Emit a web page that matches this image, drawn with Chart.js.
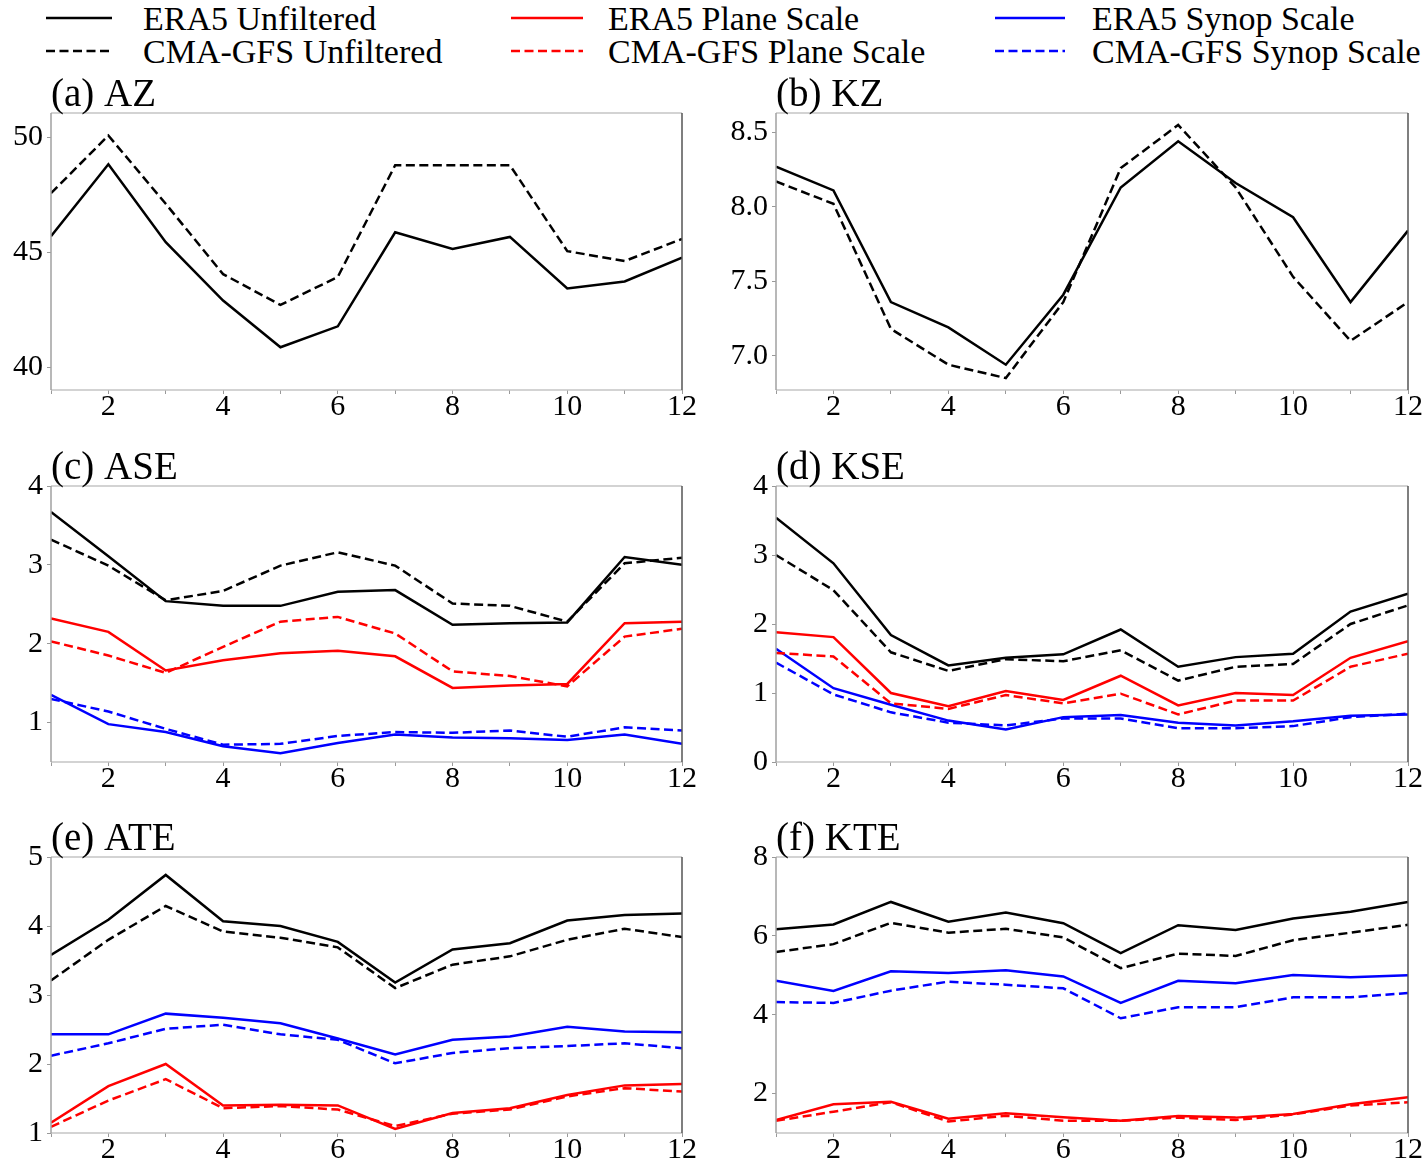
<!DOCTYPE html>
<html>
<head>
<meta charset="utf-8">
<title>Monthly energy terms</title>
<script src="https://cdn.jsdelivr.net/npm/chart.js@4.4.1/dist/chart.umd.min.js"></script>
<style>
  html, body { margin: 0; padding: 0; background: #fff; overflow: hidden; }
  body { width: 1427px; height: 1163px; position: relative; font-family: "Liberation Serif", "Times New Roman", serif; }
  .panel { position: absolute; }
  .legend-line { position: absolute; }
  .legend-text { position: absolute; font-size: 34px; line-height: 34px; color: #000; white-space: nowrap; }
</style>
</head>
<body>
<div id="legend"></div>
<div id="panels"></div>
<script>
// Months on the x axis and the labelled ticks
const months = [1, 2, 3, 4, 5, 6, 7, 8, 9, 10, 11, 12];
const xTickLabels = [2, 4, 6, 8, 10, 12];

// (a) AZ
const azEra5 = [45.69, 48.82, 45.43, 42.89, 40.86, 41.77, 45.86, 45.14, 45.66, 43.42, 43.72, 44.76];
const azCma  = [47.56, 50.07, 47.10, 44.04, 42.70, 43.92, 48.78, 48.78, 48.78, 45.04, 44.61, 45.57];
const azTicks = [40, 45, 50];

// (b) KZ
const kzEra5 = [8.27, 8.11, 7.36, 7.19, 6.94, 7.41, 8.13, 8.44, 8.16, 7.93, 7.36, 7.84];
const kzCma  = [8.17, 8.02, 7.18, 6.94, 6.85, 7.36, 8.26, 8.55, 8.13, 7.53, 7.10, 7.36];
const kzTicks = [7.0, 7.5, 8.0, 8.5];

// (c) ASE
const aseEra5      = [3.67, 3.11, 2.54, 2.48, 2.48, 2.66, 2.68, 2.24, 2.26, 2.27, 3.10, 3.00];
const aseCma       = [3.32, 2.99, 2.55, 2.67, 2.99, 3.16, 2.99, 2.51, 2.48, 2.28, 3.02, 3.09];
const asePlaneEra5 = [2.32, 2.15, 1.66, 1.79, 1.88, 1.91, 1.84, 1.44, 1.47, 1.49, 2.26, 2.28];
const asePlaneCma  = [2.03, 1.85, 1.63, 1.96, 2.28, 2.34, 2.13, 1.65, 1.59, 1.46, 2.09, 2.19];
const aseSynopEra5 = [1.35, 0.98, 0.88, 0.70, 0.61, 0.74, 0.85, 0.81, 0.80, 0.78, 0.85, 0.73];
const aseSynopCma  = [1.30, 1.14, 0.92, 0.72, 0.73, 0.83, 0.88, 0.87, 0.90, 0.82, 0.94, 0.90];
const aseTicks = [1, 2, 3, 4];

// (d) KSE
const kseEra5      = [3.54, 2.88, 1.84, 1.40, 1.51, 1.56, 1.92, 1.38, 1.52, 1.57, 2.18, 2.44];
const kseCma       = [3.00, 2.49, 1.59, 1.32, 1.49, 1.46, 1.62, 1.18, 1.38, 1.42, 2.00, 2.27];
const ksePlaneEra5 = [1.88, 1.81, 1.00, 0.81, 1.03, 0.90, 1.25, 0.82, 1.00, 0.97, 1.51, 1.75];
const ksePlaneCma  = [1.58, 1.53, 0.85, 0.77, 0.97, 0.85, 0.99, 0.69, 0.89, 0.89, 1.38, 1.57];
const kseSynopEra5 = [1.64, 1.07, 0.83, 0.60, 0.47, 0.65, 0.68, 0.57, 0.53, 0.59, 0.67, 0.69];
const kseSynopCma  = [1.44, 0.98, 0.72, 0.57, 0.53, 0.63, 0.63, 0.49, 0.49, 0.52, 0.65, 0.70];
const kseTicks = [0, 1, 2, 3, 4];

// (e) ATE
const ateEra5      = [3.58, 4.09, 4.74, 4.07, 4.00, 3.77, 3.18, 3.66, 3.75, 4.08, 4.16, 4.18];
const ateCma       = [3.21, 3.80, 4.29, 3.92, 3.83, 3.69, 3.10, 3.44, 3.56, 3.80, 3.96, 3.84];
const atePlaneEra5 = [1.15, 1.68, 2.00, 1.40, 1.41, 1.40, 1.06, 1.29, 1.36, 1.55, 1.69, 1.71];
const atePlaneCma  = [1.09, 1.47, 1.78, 1.36, 1.39, 1.34, 1.10, 1.28, 1.34, 1.53, 1.65, 1.60];
const ateSynopEra5 = [2.43, 2.43, 2.73, 2.67, 2.59, 2.37, 2.14, 2.35, 2.40, 2.54, 2.47, 2.46];
const ateSynopCma  = [2.12, 2.30, 2.51, 2.57, 2.43, 2.35, 2.01, 2.16, 2.23, 2.26, 2.30, 2.23];
const ateTicks = [1, 2, 3, 4, 5];

// (f) KTE
const kteEra5      = [6.17, 6.29, 6.86, 6.36, 6.59, 6.32, 5.56, 6.27, 6.15, 6.44, 6.61, 6.86];
const kteCma       = [5.59, 5.79, 6.33, 6.08, 6.18, 5.96, 5.18, 5.55, 5.49, 5.89, 6.08, 6.28];
const ktePlaneEra5 = [1.33, 1.73, 1.79, 1.36, 1.50, 1.40, 1.31, 1.43, 1.39, 1.48, 1.73, 1.91];
const ktePlaneCma  = [1.31, 1.54, 1.78, 1.29, 1.44, 1.31, 1.31, 1.39, 1.33, 1.47, 1.70, 1.78];
const kteSynopEra5 = [4.86, 4.60, 5.10, 5.06, 5.13, 4.97, 4.30, 4.86, 4.80, 5.01, 4.95, 5.00];
const kteSynopCma  = [4.32, 4.30, 4.61, 4.84, 4.76, 4.67, 3.91, 4.19, 4.19, 4.44, 4.44, 4.55];
const kteTicks = [2, 4, 6, 8];

const legendLabels = ['ERA5 Unfiltered', 'CMA-GFS Unfiltered', 'ERA5 Plane Scale',
                      'CMA-GFS Plane Scale', 'ERA5 Synop Scale', 'CMA-GFS Synop Scale'];

const FONT = '"Liberation Serif", "Times New Roman", serif';
const BLACK = '#000000', RED = '#ff0000', BLUE = '#0000ff';
const DASH = [9, 4.5];

// Legend: three columns, solid line on top row, dashed below
function buildLegend() {
    const legend = document.getElementById('legend');
    const columns = [
        { line: 46, width: 66, text: 143, color: BLACK },
        { line: 511, width: 72, text: 608, color: RED },
        { line: 995, width: 70, text: 1092, color: BLUE }
    ];
    const rows = [18, 51];
    columns.forEach((col, c) => {
        rows.forEach((y, r) => {
            const dash = r === 1 ? `stroke-dasharray="${DASH.join(' ')}"` : '';
            legend.insertAdjacentHTML('beforeend', `
                <svg class="legend-line" style="left:${col.line}px;top:${y - 5}px" width="${col.width}" height="10">
                    <line x1="0" y1="5" x2="${col.width}" y2="5" stroke="${col.color}" stroke-width="2.5" ${dash}/>
                </svg>
                <div class="legend-text" style="left:${col.text}px;top:${y - 16}px">${legendLabels[c * 2 + r]}</div>
            `);
        });
    });
}

// Spines in matplotlib-like greys, plus the panel title above the plot area
const framePlugin = {
    id: 'frame',
    afterDatasetsDraw(chart, args, opts) {
        const { ctx, chartArea: a } = chart;
        ctx.save();
        ctx.lineWidth = 1.5;
        const side = (color, x1, y1, x2, y2) => {
            ctx.strokeStyle = color;
            ctx.beginPath();
            ctx.moveTo(x1, y1);
            ctx.lineTo(x2, y2);
            ctx.stroke();
        };
        side('#c4c4c4', a.left, a.top, a.right, a.top);
        side('#c4c4c4', a.left, a.bottom, a.right, a.bottom);
        side('#a0a0a0', a.left, a.top, a.left, a.bottom);
        side('#555555', a.right, a.top, a.right, a.bottom);

        ctx.fillStyle = '#000';
        ctx.font = `39px ${FONT}`;
        ctx.textAlign = 'left';
        ctx.textBaseline = 'alphabetic';
        ctx.fillText(opts.text, a.left, a.top - 7);
        ctx.restore();
    }
};

function series(data, color, dashed) {
    return {
        data: months.map((m, i) => ({ x: m, y: data[i] })),
        borderColor: color,
        borderWidth: 2.5,
        borderDash: dashed ? DASH : [],
        pointRadius: 0,
        fill: false,
        tension: 0
    };
}

function makePanel(p) {
    const wrap = document.createElement('div');
    wrap.className = 'panel';
    wrap.style.left = p.left + 'px';
    wrap.style.top = p.top + 'px';
    const canvas = document.createElement('canvas');
    canvas.width = p.width;
    canvas.height = p.height;
    wrap.appendChild(canvas);
    document.getElementById('panels').appendChild(wrap);

    new Chart(canvas.getContext('2d'), {
        type: 'line',
        data: { datasets: p.datasets },
        options: {
            responsive: false,
            animation: false,
            devicePixelRatio: 1,
            layout: { padding: { top: p.padTop, right: p.padRight, left: 0, bottom: 0 } },
            plugins: {
                legend: { display: false },
                tooltip: { enabled: false },
                frame: { text: p.title }
            },
            scales: {
                x: {
                    type: 'linear',
                    min: 1,
                    max: 12,
                    afterBuildTicks: s => { s.ticks = months.map(v => ({ value: v })); },
                    afterFit: s => { s.height = 30; },
                    grid: { drawOnChartArea: false, tickLength: 4, color: '#999' },
                    border: { display: false },
                    ticks: {
                        autoSkip: false,
                        maxRotation: 0,
                        padding: -5,
                        color: '#000',
                        font: { family: FONT, size: 30 },
                        callback: v => xTickLabels.includes(v) ? String(v) : ''
                    }
                },
                y: {
                    min: p.yMin,
                    max: p.yMax,
                    afterBuildTicks: s => { s.ticks = p.yTicks.map(v => ({ value: v })); },
                    afterFit: s => { s.width = p.axisWidth; },
                    grid: { drawOnChartArea: false, tickLength: 4, color: '#999' },
                    border: { display: false },
                    ticks: {
                        padding: 4,
                        color: '#000',
                        font: { family: FONT, size: 30 },
                        callback: v => p.decimals ? v.toFixed(p.decimals) : String(v)
                    }
                }
            }
        },
        plugins: [framePlugin]
    });
}

buildLegend();

// Plot areas: left column 51..682, right column 776..1408
const rowTop = [70, 440, 812];
const chartTop = [113, 486, 857];
const chartBottom = [390, 762, 1133];

function geometry(col, row) {
    const g = col === 0
        ? { left: 0, width: 710, axisWidth: 51, padRight: 710 - 682 }
        : { left: 710, width: 717, axisWidth: 66, padRight: 1427 - 1408 };
    g.top = rowTop[row];
    g.padTop = chartTop[row] - rowTop[row];
    g.height = chartBottom[row] + 30 - rowTop[row];
    return g;
}

makePanel({ ...geometry(0, 0), title: '(a) AZ', yMin: 39, yMax: 51.05, yTicks: azTicks,
    datasets: [series(azEra5, BLACK, false), series(azCma, BLACK, true)] });

makePanel({ ...geometry(1, 0), title: '(b) KZ', yMin: 6.77, yMax: 8.63, yTicks: kzTicks, decimals: 1,
    datasets: [series(kzEra5, BLACK, false), series(kzCma, BLACK, true)] });

makePanel({ ...geometry(0, 1), title: '(c) ASE', yMin: 0.5, yMax: 4, yTicks: aseTicks,
    datasets: [
        series(aseEra5, BLACK, false), series(aseCma, BLACK, true),
        series(asePlaneEra5, RED, false), series(asePlaneCma, RED, true),
        series(aseSynopEra5, BLUE, false), series(aseSynopCma, BLUE, true)
    ] });

makePanel({ ...geometry(1, 1), title: '(d) KSE', yMin: 0, yMax: 4, yTicks: kseTicks,
    datasets: [
        series(kseEra5, BLACK, false), series(kseCma, BLACK, true),
        series(ksePlaneEra5, RED, false), series(ksePlaneCma, RED, true),
        series(kseSynopEra5, BLUE, false), series(kseSynopCma, BLUE, true)
    ] });

makePanel({ ...geometry(0, 2), title: '(e) ATE', yMin: 1, yMax: 5, yTicks: ateTicks,
    datasets: [
        series(ateEra5, BLACK, false), series(ateCma, BLACK, true),
        series(atePlaneEra5, RED, false), series(atePlaneCma, RED, true),
        series(ateSynopEra5, BLUE, false), series(ateSynopCma, BLUE, true)
    ] });

makePanel({ ...geometry(1, 2), title: '(f) KTE', yMin: 1, yMax: 8, yTicks: kteTicks,
    datasets: [
        series(kteEra5, BLACK, false), series(kteCma, BLACK, true),
        series(ktePlaneEra5, RED, false), series(ktePlaneCma, RED, true),
        series(kteSynopEra5, BLUE, false), series(kteSynopCma, BLUE, true)
    ] });
</script>
</body>
</html>
